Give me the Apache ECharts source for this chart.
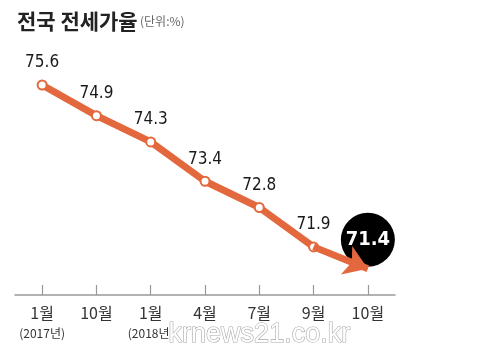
<!DOCTYPE html>
<html><head><meta charset="utf-8">
<script src="https://cdn.jsdelivr.net/npm/echarts@6/dist/echarts.min.js"></script>
<style>html,body{margin:0;padding:0;background:#fff}#c{width:500px;height:357px}</style>
</head><body><div id="c"></div>
<script>
const categories = ['1월','10월','1월','4월','7월','9월','10월'];
const subLabels = ['(2017년)','','(2018년)','','','',''];
const values = [75.6, 74.9, 74.3, 73.4, 72.8, 71.9, 71.4];
const title = '전국 전세가율';
const unit = '(단위:%)';

const ORANGE = '#E4683D';
const NUMFONT = '"DejaVu Sans Condensed", "Roboto", sans-serif';
const chart = echarts.init(document.getElementById('c'));
const last = values.length - 1;
const mainData = values.slice(0, last);
chart.setOption({
  animation: false,
  grid: {left: 15, right: 105, top: 50, bottom: 62},
  title: {
    text: title, left: 12, top: 6,
    textStyle: {fontFamily: 'Noto Sans CJK KR', fontWeight: 'bold', fontSize: 21, color: '#222'}
  },
  graphic: [
    {type: 'text', left: 140, top: 15, style: {text: unit, font: '12px "Noto Sans CJK KR"', fill: '#666'}},
    {type: 'text', left: 168, top: 320, style: {text: 'krnews21.co.kr', font: '27px "Liberation Sans"', fill: '#fff', stroke: '#aaa', lineWidth: 1.2}, z: 100}
  ],
  xAxis: {
    type: 'category', data: categories,
    axisLine: {lineStyle: {color: '#999', width: 1.5}},
    axisTick: {show: true, inside: true, length: 10, alignWithLabel: true, lineStyle: {color: '#999', width: 1.2}},
    axisLabel: {
      margin: 8, interval: 0,
      formatter: (v, i) => subLabels[i] ? '{a|' + v + '}\n{b|' + subLabels[i] + '}' : '{a|' + v + '}',
      rich: {
        a: {fontFamily: 'Noto Sans CJK KR', fontSize: 16, color: '#333', lineHeight: 20},
        b: {fontFamily: 'Noto Sans CJK KR', fontSize: 12, color: '#333', lineHeight: 20}
      }
    }
  },
  yAxis: {type: 'value', min: 70.8, max: 76.4, show: false, splitLine: {show: false}},
  series: [
    {
      type: 'scatter', z: 2,
      data: values.map((v, i) => i === last ? v : '-'),
      symbol: 'circle', symbolSize: 54, symbolOffset: [0, -29],
      itemStyle: {color: '#000', opacity: 1},
      label: {show: true, position: 'inside', color: '#fff', fontFamily: NUMFONT, fontWeight: 'bold', fontSize: 20, formatter: p => p.value.toFixed(1)}
    },
    {
      type: 'line', data: mainData, z: 3,
      lineStyle: {color: ORANGE, width: 7},
      symbol: 'circle', symbolSize: 9,
      itemStyle: {color: '#fff', borderColor: ORANGE, borderWidth: 2},
      label: {show: true, position: 'top', distance: 8, fontFamily: NUMFONT, fontSize: 17, color: '#1a1a1a', formatter: p => p.value.toFixed(1)},
      markLine: {
        silent: true, symbol: ['none', 'arrow'], symbolSize: 23,
        lineStyle: {color: ORANGE, width: 7, type: 'solid', opacity: 1},
        itemStyle: {color: ORANGE},
        label: {show: false},
        data: [[{coord: [last - 1, values[last - 1]]}, {coord: [last, values[last]]}]]
      }
    }
  ]
});
</script></body></html>
